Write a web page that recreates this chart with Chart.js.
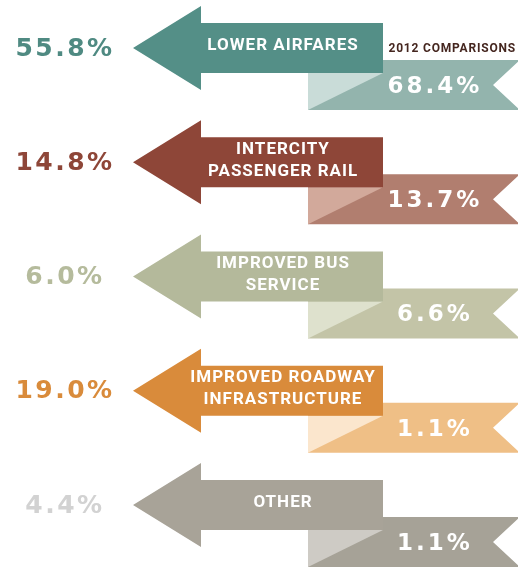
<!DOCTYPE html>
<html>
<head>
<meta charset="utf-8">
<script src="https://cdn.jsdelivr.net/npm/chart.js@4/dist/chart.umd.min.js"></script>
<style>
  html, body { margin: 0; padding: 0; background: #fff; }
  #wrap { width: 518px; height: 568px; }
</style>
</head>
<body>
<div id="wrap"><canvas id="modeChart"></canvas></div>
<script>
// categories (each entry = lines shown inside the arrow)
const categories = [
    ['LOWER AIRFARES'],
    ['INTERCITY', 'PASSENGER RAIL'],
    ['IMPROVED BUS', 'SERVICE'],
    ['IMPROVED ROADWAY', 'INFRASTRUCTURE'],
    ['OTHER']
];
const shareCurrent = [55.8, 14.8, 6.0, 19.0, 4.4];   // big number left of arrow
const share2012 = [68.4, 13.7, 6.6, 1.1, 1.1];       // number on the ribbon
const comparisonLabel = '2012 COMPARISONS';

// colours per row: arrow, ribbon, ribbon fold, left number
const arrowColors = ['#548f87', '#8e4638', '#b4b99b', '#d98b3b', '#a8a398'];
const ribbonColors = ['#93b4ad', '#b17e6f', '#c3c4a7', '#efbf86', '#a6a297'];
const foldColors = ['#c9dcd8', '#d2a99b', '#dee1cd', '#fbe6cd', '#cecbc5'];
const numberColors = ['#4f8a82', '#8e4638', '#b5bb9c', '#d98b3b', '#d2d2d2'];

const arrowPlugin = {
    id: 'arrowRibbons',
    afterDraw(chart) {
        const ctx = chart.ctx;
        const yScale = chart.scales.y;
        const left = chart.chartArea.left;
        ctx.save();
        categories.forEach(function (lines, i) {
            const yc = yScale.getPixelForValue(i);
            const x = function (v) { return left + v; };

            // ribbon behind the arrow
            ctx.fillStyle = ribbonColors[i];
            ctx.beginPath();
            ctx.moveTo(x(308), yc + 12);
            ctx.lineTo(x(520), yc + 12);
            ctx.lineTo(x(493), yc + 37);
            ctx.lineTo(x(520), yc + 62);
            ctx.lineTo(x(308), yc + 62);
            ctx.closePath();
            ctx.fill();

            // folded corner
            ctx.fillStyle = foldColors[i];
            ctx.beginPath();
            ctx.moveTo(x(308), yc + 25);
            ctx.lineTo(x(383), yc + 25);
            ctx.lineTo(x(308), yc + 62);
            ctx.closePath();
            ctx.fill();

            // arrow
            ctx.fillStyle = arrowColors[i];
            ctx.beginPath();
            ctx.moveTo(x(133), yc);
            ctx.lineTo(x(201), yc - 42);
            ctx.lineTo(x(201), yc - 25);
            ctx.lineTo(x(383), yc - 25);
            ctx.lineTo(x(383), yc + 25);
            ctx.lineTo(x(201), yc + 25);
            ctx.lineTo(x(201), yc + 42);
            ctx.closePath();
            ctx.fill();

            ctx.textBaseline = 'middle';
            ctx.textAlign = 'center';

            // label inside arrow
            ctx.fillStyle = '#ffffff';
            ctx.font = 'bold 17px Roboto, "DejaVu Sans", sans-serif';
            ctx.letterSpacing = '1px';
            const lh = 22;
            const startY = yc - 2 - (lines.length - 1) * lh / 2;
            lines.forEach(function (t, k) {
                ctx.fillText(t, x(283), startY + k * lh);
            });

            // left number
            ctx.fillStyle = numberColors[i];
            ctx.font = 'bold 25px "DejaVu Sans", sans-serif';
            ctx.letterSpacing = '2.5px';
            ctx.fillText(shareCurrent[i].toFixed(1) + '%', x(65), yc + 1);

            // ribbon number
            ctx.fillStyle = '#ffffff';
            ctx.font = 'bold 23px "DejaVu Sans", sans-serif';
            ctx.letterSpacing = '3px';
            ctx.fillText(share2012[i].toFixed(1) + '%', x(435), yc + 39);
        });

        // comparison note
        const y0 = yScale.getPixelForValue(0);
        ctx.fillStyle = '#45261f';
        ctx.font = 'bold 12px Roboto, "DejaVu Sans", sans-serif';
        ctx.letterSpacing = '0.8px';
        ctx.textAlign = 'right';
        ctx.fillText(comparisonLabel, left + 516, y0 + 1);
        ctx.restore();
    }
};

new Chart(document.getElementById('modeChart'), {
    type: 'bar',
    data: {
        labels: categories,
        datasets: [
            { label: 'Current', data: shareCurrent, backgroundColor: 'rgba(0,0,0,0)' },
            { label: '2012', data: share2012, backgroundColor: 'rgba(0,0,0,0)' }
        ]
    },
    options: {
        indexAxis: 'y',
        responsive: true,
        maintainAspectRatio: false,
        animation: false,
        layout: { padding: { top: 48, bottom: 63, left: 0, right: 0 } },
        plugins: {
            legend: { display: false },
            tooltip: { enabled: false }
        },
        scales: {
            x: { display: false, min: 0, max: 100 },
            y: { display: false, offset: false }
        }
    },
    plugins: [arrowPlugin]
});
</script>
</body>
</html>
